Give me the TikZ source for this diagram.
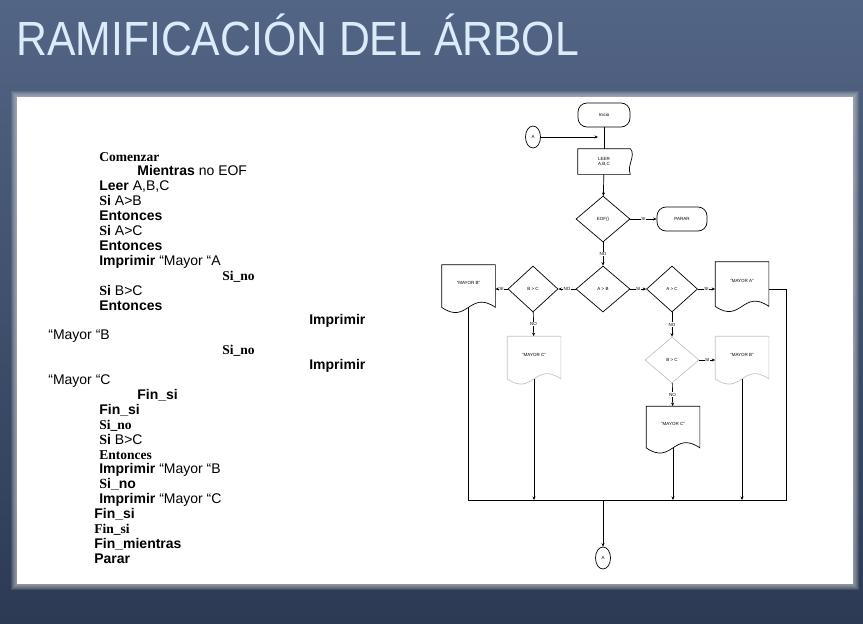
\documentclass[tikz,border=0pt]{standalone}
\usepackage{fontspec}
\setmainfont{Liberation Serif}
\setsansfont{Liberation Sans}
\newfontfamily\titlefont[FakeStretch=0.89]{Liberation Sans}
\usepackage{xcolor}
\usetikzlibrary{shapes.geometric,arrows.meta,positioning}

\definecolor{slidetop}{HTML}{536585}
\definecolor{slidebot}{HTML}{2C3A54}
\definecolor{titleblue}{HTML}{DCEBFA}
\definecolor{faint}{HTML}{C4C4C4}

\newcommand{\Siw}{\textbf{\rmfamily S}\textbf{i}}
% document symbol with a wavy foot
\newcommand{\docshape}[2][black]{%
  \draw[#1] (#2.north west) -- (#2.north east) -- ([yshift=6pt]#2.south east)
    .. controls ([xshift=-26pt,yshift=24pt]#2.south east) and ([xshift=26pt,yshift=-12pt]#2.south west) ..
    ([yshift=6pt]#2.south west) -- cycle;}
% input box with a bent right side
\newcommand{\tapeshape}[1]{%
  \draw (#1.north west) -- (#1.north east)
    .. controls ([xshift=6pt,yshift=-7pt]#1.north east) and ([xshift=-4pt,yshift=9pt]#1.south east) ..
    (#1.south east) -- (#1.south west) -- cycle;}

\begin{document}
\begin{tikzpicture}[x=1pt,y=-1pt,line width=0.7pt,
    >={Stealth[length=3.5pt,width=3pt]},
    flow/.style={font=\sffamily\fontsize{4.5}{5.5}\selectfont, inner sep=1pt},
    term/.style={flow, draw, rounded corners=9pt, minimum width=52pt, minimum height=24pt},
    dec/.style={flow, draw, diamond, minimum width=54pt, minimum height=46pt, inner sep=0pt},
    docu/.style={flow, minimum width=53pt, minimum height=48pt, text depth=12pt, inner sep=0pt},
    conn/.style={flow, draw, ellipse, minimum width=15pt, minimum height=22pt, inner sep=0pt},
    lbl/.style={flow, fill=white, inner sep=0.6pt},
    code/.style={anchor=base west, inner sep=0pt, font=\sffamily\fontsize{14}{16}\selectfont}]
  \useasboundingbox (0,0) rectangle (863,624);

  % slide background and sheet
  \shade[top color=slidetop, bottom color=slidebot] (0,0) rectangle (863,624);
  \foreach \g in {6,5,...,1}
    \fill[gray!35, opacity=0.14] (17-\g,97-\g) rectangle (853+\g,584+\g);
  \fill[white] (17,97) rectangle (853,584);

  \node[anchor=base west, inner sep=0pt, text=titleblue,
        font=\titlefont\fontsize{48}{52}\selectfont] (title) at (16,55) {RAMIFICACIÓN DEL ÁRBOL};

  % pseudo code
  \foreach \k/\x/\txt in {
      0/99/{\rmfamily\bfseries\fontsize{13.5}{16}\selectfont Comenzar},
      1/137/{\textbf{Mientras} no EOF},
      2/99/{\textbf{Leer} A,B,C},
      3/99/{\Siw{} A>B},
      4/99/{\textbf{Entonces}},
      5/99/{\Siw{} A>C},
      6/99/{\textbf{Entonces}},
      7/99/{\textbf{Imprimir} “Mayor “A},
      8/222/{\rmfamily\bfseries\fontsize{13.5}{16}\selectfont Si\_no},
      9/99/{\Siw{} B>C},
      10/99/{\textbf{Entonces}},
      11/309/{\textbf{Imprimir}},
      12/48/{“Mayor “B},
      13/222/{\rmfamily\bfseries\fontsize{13.5}{16}\selectfont Si\_no},
      14/309/{\textbf{Imprimir}},
      15/48/{“Mayor “C},
      16/137/{\textbf{Fin\_si}},
      17/99/{\textbf{Fin\_si}},
      18/99/{\rmfamily\bfseries\fontsize{13.5}{16}\selectfont Si\_no},
      19/99/{\Siw{} B>C},
      20/99/{\rmfamily\bfseries\fontsize{13.5}{16}\selectfont Entonces},
      21/99/{\textbf{Imprimir} “Mayor “B},
      22/99/{\Siw\textbf{\_no}},
      23/99/{\textbf{Imprimir} “Mayor “C},
      24/94/{\textbf{Fin\_si}},
      25/94/{\rmfamily\bfseries\fontsize{13.5}{16}\selectfont Fin\_si},
      26/94/{\textbf{Fin\_mientras}},
      27/94/{\textbf{Parar}}}
    \node[code] (l\k) at (\x,{161+14.9*\k}) {\txt};

  % flowchart
  \node[term] (inicio) at (604,115) {Inicio};
  \node[conn] (conA) at (533,137) {A};
  \node[flow, minimum width=52pt, minimum height=25pt, align=center] (leer) at (604,161.5) {LEER\\A,B,C};
  \tapeshape{leer}
  \node[dec] (eof) at (603,219) {EOF()};
  \node[term, minimum width=50pt] (parar) at (682,219) {PARAR};
  \node[dec] (ab) at (603,289) {A > B};
  \node[dec, minimum width=50pt] (bc1) at (533,289) {B > C};
  \node[dec, minimum width=51pt] (ac) at (672,289) {A > C};
  \node[docu] (mB1) at (468.5,289) {"MAYOR B"};
  \node[docu, minimum height=50pt] (mA) at (742,287) {"MAYOR A"};
  \node[docu] (mC1) at (534,360.5) {"MAYOR C"};
  \node[dec, draw=faint] (bc2) at (672,360) {B > C};
  \node[docu] (mB2) at (742,360.5) {"MAYOR B"};
  \node[docu, minimum height=47pt] (mC2) at (673,430) {"MAYOR C"};
  \node[conn] (conA2) at (603,558) {A};
  \docshape{mB1}
  \docshape{mA}
  \docshape[faint]{mC1}
  \docshape[faint]{mB2}
  \docshape{mC2}

  \coordinate (joinA) at (598,137);
  \coordinate (base) at (603,500);
  \coordinate (cornerR) at (786,500);

  \draw (inicio) -- (leer);
  \draw[->] (conA) -- (joinA);
  \draw[->] (leer) -- (eof);
  \draw[->] (eof) -- node[lbl] {SI} (parar);
  \draw[->] (eof) -- node[lbl] {NO} (ab);
  \draw[->] (ab) -- node[lbl] {NO} (bc1);
  \draw[->] (ab) -- node[lbl] {SI} (ac);
  \draw[->] (bc1) -- node[lbl] {SI} (mB1.east |- bc1);
  \draw[->] (bc1) -- node[lbl] {NO} (mC1);
  \draw[->] (ac) -- node[lbl] {SI} (mA.west |- ac);
  \draw[->] (ac) -- node[lbl] {NO} (bc2);
  \draw[->] (bc2) -- node[lbl] {SI} (mB2.west |- bc2);
  \draw[->] (bc2) -- node[lbl] {NO} (mC2);

  % gathering line to the connector
  \draw ([yshift=6pt]mB1.south) -- (mB1.south |- base) -- (cornerR) |- (mA.east |- ac);
  \draw[->] ([yshift=6pt]mC1.south) -- (mC1.south |- base);
  \draw[->] ([yshift=6pt]mC2.south) -- (mC2.south |- base);
  \draw[->] ([yshift=6pt]mB2.south) -- (mB2.south |- base);
  \draw[->] (base) -- (conA2);
\end{tikzpicture}
\end{document}
